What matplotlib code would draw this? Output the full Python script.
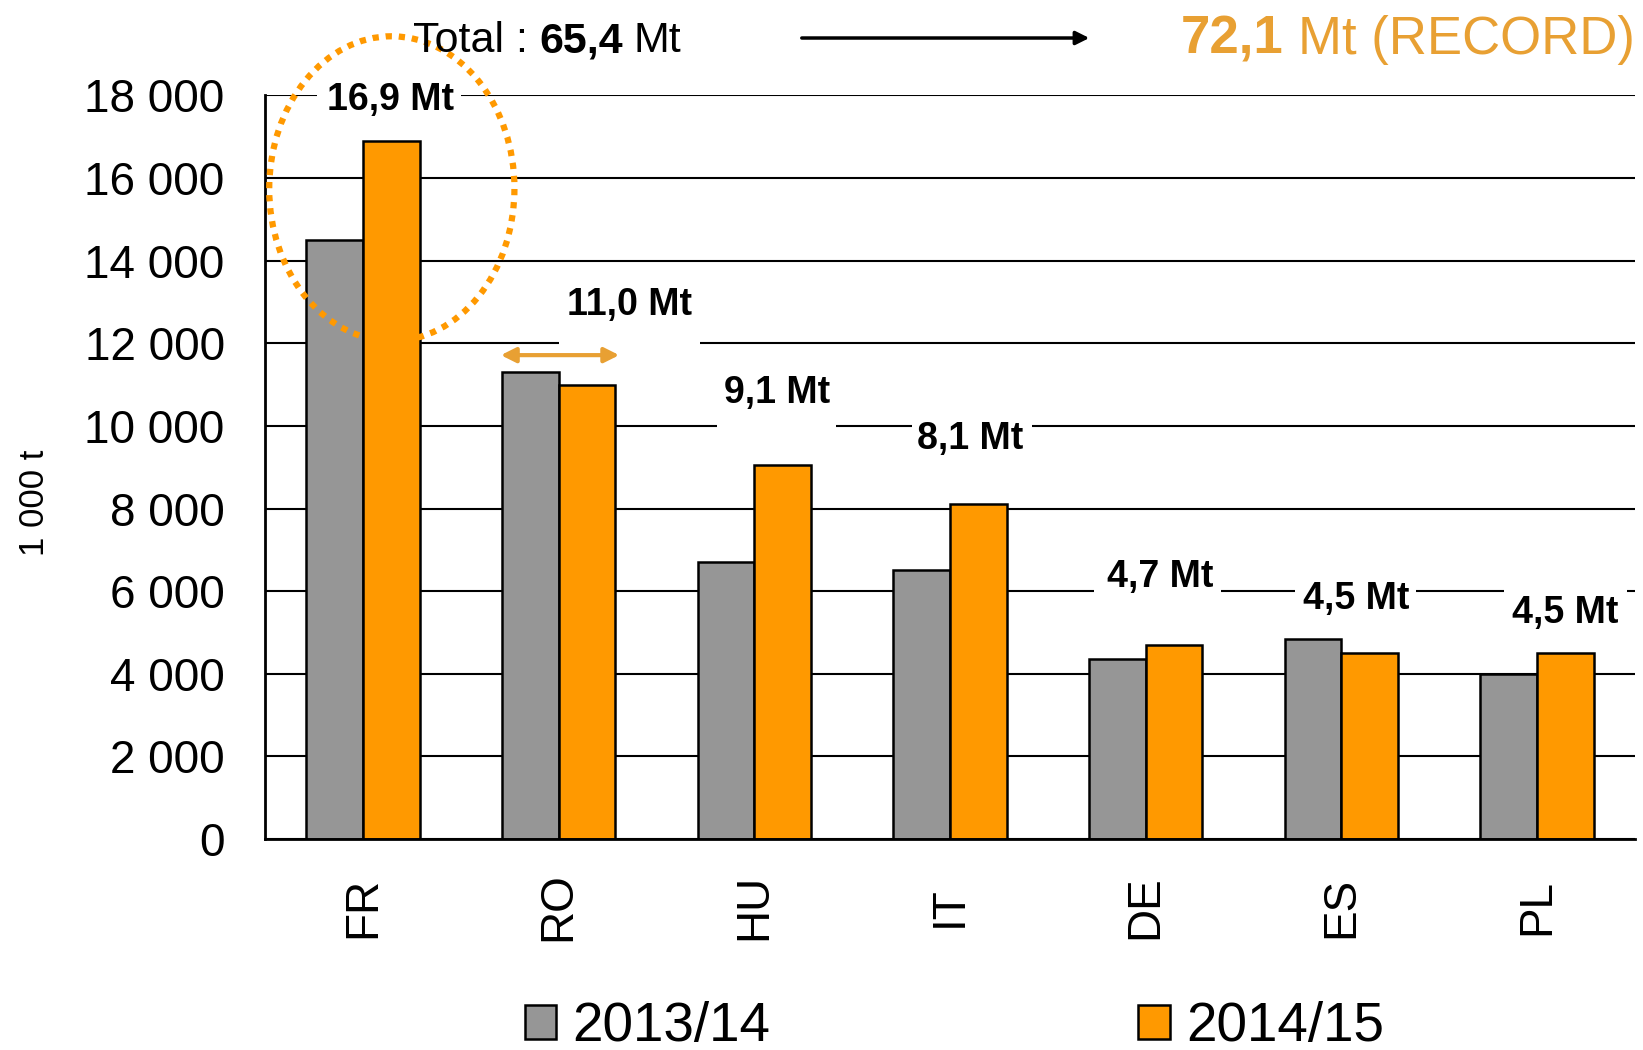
import matplotlib
matplotlib.use("Agg")
import matplotlib.pyplot as plt
import matplotlib.ticker as ticker
from matplotlib.patches import Ellipse, Rectangle
import numpy as np

# Data (1 000 t)
countries = ["FR", "RO", "HU", "IT", "DE", "ES", "PL"]
season_labels = ["2013/14", "2014/15"]
prod_2013_14 = [14500, 11300, 6700, 6500, 4350, 4850, 4000]
prod_2014_15 = [16900, 11000, 9050, 8100, 4700, 4500, 4500]
value_labels = ["16,9 Mt", "11,0 Mt", "9,1 Mt", "8,1 Mt", "4,7 Mt", "4,5 Mt", "4,5 Mt"]
total_2013_14 = "65,4"
total_2014_15 = "72,1"

GREY = "#969696"
ORANGE = "#FF9900"
TEXT_ORANGE = "#E8A033"

plt.rcParams["font.family"] = ["Liberation Sans", "DejaVu Sans"]


def fmt_thousands(v, _pos):
    return f"{int(v):,}".replace(",", " ")


fig = plt.figure(figsize=(16.43, 10.5), dpi=100)
ax = fig.add_axes([0.1613, 0.2010, 0.9951 - 0.1613, 0.9091 - 0.2010])

x = np.arange(len(countries))
w = 0.29
ax.bar(x - w / 2, prod_2013_14, w, color=GREY, edgecolor="black", linewidth=1.8,
       label=season_labels[0], zorder=2)
ax.bar(x + w / 2, prod_2014_15, w, color=ORANGE, edgecolor="black", linewidth=1.8,
       label=season_labels[1], zorder=2)

ax.set_xlim(-0.5, len(countries) - 0.5)
ax.set_ylim(0, 18000)
ax.yaxis.set_major_locator(ticker.MultipleLocator(2000))
ax.yaxis.set_major_formatter(ticker.FuncFormatter(fmt_thousands))
ax.yaxis.grid(True, color="black", linewidth=1.5)
ax.set_axisbelow(True)

ax.spines["top"].set_visible(False)
ax.spines["right"].set_visible(False)
ax.spines["left"].set_linewidth(2)
ax.spines["bottom"].set_linewidth(2)

ax.set_xticks(x)
ax.set_xticklabels(countries, rotation=90, fontsize=33, va="center")
ax.tick_params(axis="x", length=0, pad=49)
ax.tick_params(axis="y", length=0, pad=29, labelsize=33)

fig.text(0.0207, 0.521, "1 000 t", rotation=90, fontsize=25, ha="center", va="center")

# value labels sitting on the gridlines (white gap behind each label)
label_pos = [(0.143, 17897, 18000, 0.135, 0.367),
             (1.364, 12929, 12000, 1.362, 0.362),
             (2.114, 10799, 10000, 2.113, 0.305),
             (3.105, 9684, 10000, 3.113, 0.308),
             (4.074, 6338, 6000, 4.061, 0.324),
             (5.076, 5806, 6000, 5.073, 0.308),
             (6.142, 5476, 6000, 6.145, 0.313)]
for txt, (tx, ty, grid_y, gx, half) in zip(value_labels, label_pos):
    y0 = min(grid_y, ty) - 450
    y1 = max(grid_y, ty) + 450
    ax.add_patch(Rectangle((gx - half, y0), 2 * half, y1 - y0, facecolor="white",
                           edgecolor="none", zorder=1, clip_on=False))
    ax.text(tx, ty, txt, ha="center", va="center", fontsize=27, fontweight="bold", zorder=3)

# dotted circle round France
ax.add_patch(Ellipse((0.148, 15744), 1.253, 7377, fill=False, edgecolor=ORANGE,
                     linewidth=4.5, linestyle=(0, (1, 1.1)), zorder=4, clip_on=False))

# double arrow over Romania
ax.annotate("", xy=(0.705, 11713), xytext=(1.31, 11713),
            arrowprops=dict(arrowstyle="<|-|>", color=TEXT_ORANGE, lw=3, mutation_scale=22,
                            shrinkA=0, shrinkB=0), zorder=4)

# totals header
t1 = fig.text(0.2515, 0.9605, "Total :", fontsize=31, ha="left", va="center")
t2 = ax.annotate(total_2013_14, xy=(1, 0.5), xycoords=t1, xytext=(8, 0),
                 textcoords="offset points", fontsize=31, fontweight="bold",
                 ha="left", va="center", annotation_clip=False)
ax.annotate("Mt", xy=(1, 0.5), xycoords=t2, xytext=(8, 0), textcoords="offset points",
            fontsize=31, ha="left", va="center", annotation_clip=False)

ax.annotate("", xy=(0.663, 0.9638), xytext=(0.488, 0.9638),
            xycoords="figure fraction", textcoords="figure fraction",
            arrowprops=dict(arrowstyle="-|>", color="black", lw=2.5, mutation_scale=20,
                            shrinkA=0, shrinkB=0), annotation_clip=False)

r1 = fig.text(0.7188, 0.962, total_2014_15, fontsize=38, fontweight="bold",
              color=TEXT_ORANGE, ha="left", va="center")
ax.annotate("Mt (RECORD)", xy=(1, 0.5), xycoords=r1, xytext=(10, 0),
            textcoords="offset points", fontsize=38, color=TEXT_ORANGE,
            ha="left", va="center", annotation_clip=False)

fig.legend(loc="center left", bbox_to_anchor=(0.3195, 0.0219), ncol=2, frameon=False,
           fontsize=39.5, handlelength=0.57, handleheight=0.57, handletextpad=0.3,
           columnspacing=6.7, borderpad=0, borderaxespad=0)

fig.savefig("out.png", dpi=100, facecolor="white")
